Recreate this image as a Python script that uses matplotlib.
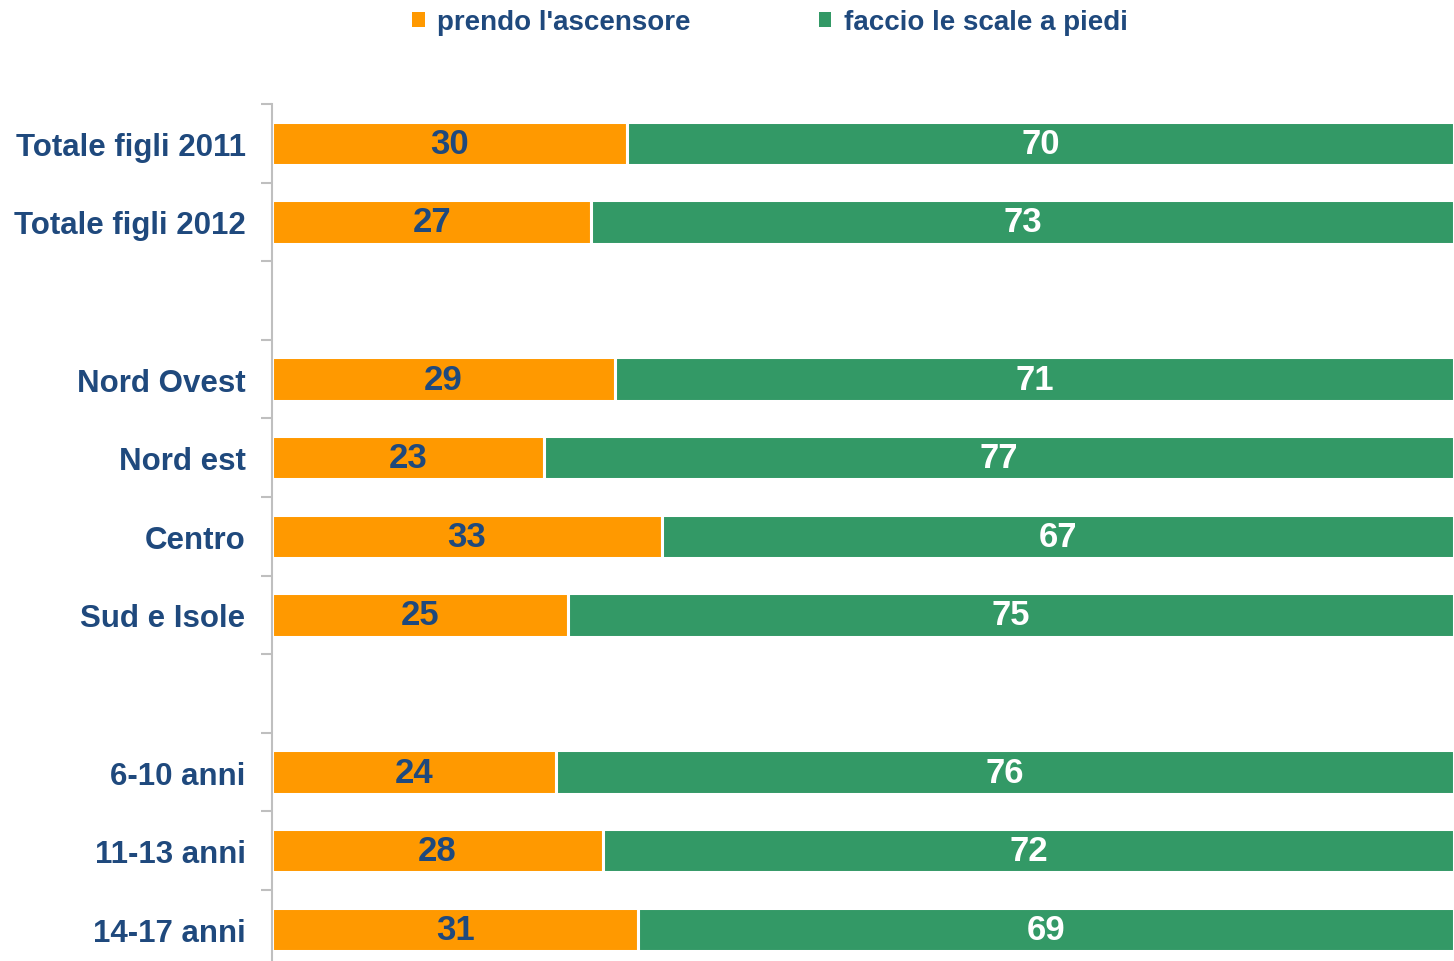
import numpy as np
import matplotlib.pyplot as plt

# Data (blank entries are spacer rows between groups)
categories = ['Totale figli 2011', 'Totale figli 2012', '',
              'Nord Ovest', 'Nord est', 'Centro', 'Sud e Isole', '',
              '6-10 anni', '11-13 anni', '14-17 anni']
ascensore = [30, 27, np.nan, 29, 23, 33, 25, np.nan, 24, 28, 31]
scale = [70, 73, np.nan, 71, 77, 67, 75, np.nan, 76, 72, 69]
series_names = ["prendo l'ascensore", "faccio le scale a piedi"]

orange = '#FF9900'
green = '#339966'
navy = '#1F497D'

plt.rcParams['font.family'] = ['Liberation Sans', 'DejaVu Sans']
plt.rcParams['font.weight'] = 'bold'

fig = plt.figure(figsize=(14.54, 9.62), dpi=100)
ax = fig.add_axes([272 / 1454, 1 - 969.6 / 962, 1 - 272 / 1454, (969.6 - 105) / 962])

y = np.arange(len(categories))
b1 = ax.barh(y, ascensore, height=0.55, color=orange, edgecolor='white',
             linewidth=2.2, label=series_names[0])
b2 = ax.barh(y, scale, left=ascensore, height=0.55, color=green, edgecolor='white',
             linewidth=2.2, label=series_names[1])

for i in range(len(categories)):
    if np.isnan(ascensore[i]):
        continue
    ax.text(ascensore[i] / 2, y[i], f'{ascensore[i]:.0f}', ha='center', va='center',
            color=navy, fontsize=25, fontweight='bold')
    ax.text(ascensore[i] + scale[i] / 2, y[i], f'{scale[i]:.0f}', ha='center', va='center',
            color='white', fontsize=25, fontweight='bold')

ax.set_xlim(0, 100)
ax.set_ylim(len(categories) - 0.5, -0.5)
ax.set_yticks(y)
ax.set_yticklabels(categories, fontsize=22.5, color=navy, fontweight='bold')
ax.set_yticks(np.arange(len(categories) + 1) - 0.5, minor=True)
ax.tick_params(axis='y', which='major', length=0, pad=19)
ax.tick_params(axis='y', which='minor', length=8, width=1.5, color='#BFBFBF')
ax.set_xticks([])
for s in ['top', 'right', 'bottom']:
    ax.spines[s].set_visible(False)
ax.spines['left'].set_color('#BFBFBF')
ax.spines['left'].set_linewidth(1.5)

leg = fig.legend(handles=[b1, b2], loc='center', bbox_to_anchor=(770 / 1454, 1 - 23 / 962),
                 ncol=2, frameon=False, fontsize=20, handlelength=0.45, handleheight=0.45,
                 handletextpad=0.45, columnspacing=4.6, labelcolor=navy)
for h in leg.legend_handles:
    h.set_linewidth(0)

fig.savefig('out.png', dpi=100)
